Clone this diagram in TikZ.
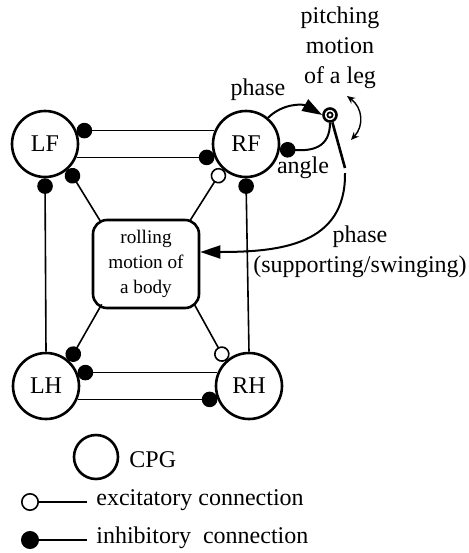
\documentclass[tikz,border=0pt]{standalone}
\usepackage{amsmath, amssymb, fontspec}
\setmainfont{Liberation Serif}
\usetikzlibrary{arrows.meta}

\begin{document}
\begin{tikzpicture}[x=0.5pt, y=-0.5pt,
        cpg/.style={circle, draw, line width=1.3pt, minimum size=33pt, inner sep=0pt, font=\fontsize{12}{15}\selectfont},
        inh/.style={line width=0.8pt, -{Circle[length=7.8pt, width=7.8pt]}},
        exc/.style={line width=0.8pt, -{Circle[open, fill=white, length=7.8pt, width=7.8pt]}},
        sig/.style={line width=1pt, -{Triangle[length=10pt, width=6.5pt]}},
        lbl/.style={align=center, inner sep=0pt, font=\fontsize{12}{15}\selectfont}]
        \useasboundingbox (0,0) rectangle (469,553);
        \node[cpg] (LF) at (45,144) {LF};
        \node[cpg] (RF) at (246,144) {RF};
        \node[cpg] (LH) at (46,386) {LH};
        \node[cpg] (RH) at (249,386) {RH};
        \node[draw, line width=1.3pt, rounded corners=7pt, minimum width=53pt, minimum height=44pt, align=center, inner sep=0pt, font=\fontsize{9.6}{12.3}\selectfont] (body) at (146,264) {rolling\\motion of\\a body};
        % CPG to CPG
        \draw[inh] (RF.157) -- (LF.23);
        \draw[inh] (LF.-23) -- (RF.-157);
        \draw[inh] (RH.157) -- (LH.23);
        \draw[inh] (LH.-23) -- (RH.-157);
        \draw[inh] (LH.north) -- (LF.south);
        \draw[inh] (RH.north) -- (RF.south);
        % body to CPG
        \draw[inh] ([shift={(9,3)}]body.north west) -- (LF.-47);
        \draw[exc] ([shift={(-11,3)}]body.north east) -- (RF.-133);
        \draw[inh] ([shift={(10,-5)}]body.south west) -- (LH.47);
        \draw[exc] ([shift={(-6,-5)}]body.south east) -- (RH.133);
        % leg
        \node[circle, draw, line width=1.3pt, minimum size=6.5pt, inner sep=0pt] (joint) at (330,115) {};
        \node[circle, draw, line width=0.9pt, minimum size=2.6pt, inner sep=0pt] at (joint) {};
        \coordinate (foot) at (345,168);
        \coordinate (footb) at (345,173);
        \draw[line width=1.3pt] (joint.-72) -- (foot);
        \draw[sig] (RF.50) .. controls (283,103) and (303,104) .. (joint.west);
        \draw[inh, line width=1pt] (joint.south) .. controls (330,148) and (312,151) .. (RF.-9);
        \draw[sig] (footb) .. controls (346,245) and (280,252) .. ([shift={(0,-12)}]body.east);
        \draw[line width=0.7pt, {Stealth[length=4pt, width=3.5pt]}-{Stealth[length=4pt, width=3.5pt]}] (347,96) .. controls (363,108) and (364,126) .. (351,140);
        \node[lbl] (pitchlbl) at (340,48) {pitching\\motion\\of a leg};
        \node[lbl] (phaselbl) at (258,90) {phase};
        \node[lbl] (anglelbl) at (303,168) {angle};
        \node[lbl] (phase2lbl) at (360,252) {phase\\(supporting/swinging)};
        % legend
        \node[cpg, minimum size=22pt] (cpglegend) at (96,457) {};
        \node[lbl, anchor=west] (cpglbl) at (129,460) {CPG};
        \node[lbl, anchor=west] (exclbl) at (96,500) {excitatory connection};
        \node[lbl, anchor=west] (inhlbl) at (96,538) {inhibitory\ \ connection};
        \coordinate (excend) at (21,502);
        \coordinate (inhend) at (21,540);
        \draw[exc, -{Circle[open, fill=white, length=9pt, width=9pt]}] ([xshift=-4.5pt]exclbl.west |- excend) -- (excend);
        \draw[inh, -{Circle[length=9pt, width=9pt]}] ([xshift=-4.5pt]inhlbl.west |- inhend) -- (inhend);
    \end{tikzpicture}
\end{document}
